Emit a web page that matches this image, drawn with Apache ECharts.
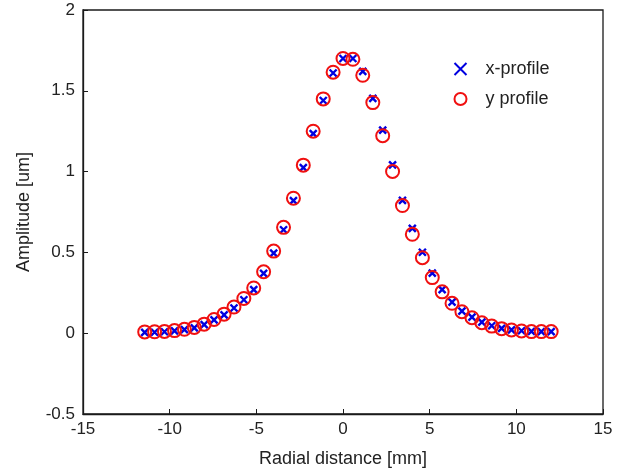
<!DOCTYPE html>
<html>
<head>
<meta charset="utf-8">
<script src="https://cdn.jsdelivr.net/npm/echarts@6/dist/echarts.min.js"></script>
<style>
html,body{margin:0;padding:0;background:#fff;}
#chart{width:619px;height:473px;}
</style>
</head>
<body>
<div id="chart"></div>
<script>
// Radial positions [mm]
var radialDistance = [-11.44, -10.87, -10.30, -9.72, -9.15, -8.58, -8.01, -7.44, -6.86, -6.29,
  -5.72, -5.15, -4.58, -4.00, -3.43, -2.86, -2.29, -1.72, -1.14, -0.57,
  0.00, 0.57, 1.14, 1.72, 2.29, 2.86, 3.43, 4.00, 4.58, 5.15,
  5.72, 6.29, 6.86, 7.44, 8.01, 8.58, 9.15, 9.72, 10.30, 10.87, 11.44, 12.01];
// x-profile amplitude [um]
var xProfile = [0.005, 0.006, 0.009, 0.014, 0.022, 0.033, 0.053, 0.082, 0.113, 0.156,
  0.207, 0.270, 0.370, 0.495, 0.640, 0.820, 1.025, 1.235, 1.440, 1.610,
  1.700, 1.700, 1.620, 1.453, 1.257, 1.042, 0.822, 0.649, 0.501, 0.372,
  0.270, 0.192, 0.137, 0.100, 0.068, 0.046, 0.030, 0.021, 0.015, 0.011, 0.010, 0.010];
// y profile amplitude [um]
var yProfile = [0.008, 0.009, 0.011, 0.016, 0.024, 0.036, 0.056, 0.085, 0.118, 0.162,
  0.215, 0.280, 0.380, 0.508, 0.655, 0.835, 1.040, 1.250, 1.450, 1.615,
  1.700, 1.695, 1.596, 1.427, 1.222, 1.001, 0.790, 0.612, 0.467, 0.344,
  0.256, 0.185, 0.133, 0.096, 0.065, 0.044, 0.028, 0.020, 0.014, 0.010, 0.010, 0.010];
var xTicks = {min: -15, max: 15, interval: 5};
var yTicks = {min: -0.5, max: 2, interval: 0.5};

function pairs(xs, ys) { return xs.map(function (x, i) { return [x, ys[i]]; }); }

var font = 'Arial, "Liberation Sans", sans-serif';
var chart = echarts.init(document.getElementById('chart'), null, {renderer: 'canvas'});
chart.setOption({
  animation: false,
  backgroundColor: '#fff',
  grid: {left: 83, right: 16, top: 10, bottom: 56, show: true, borderColor: '#1a1a1a', borderWidth: 1.3, backgroundColor: 'transparent'},
  legend: {
    orient: 'vertical', left: 447, top: 55, itemWidth: 12, itemHeight: 12, itemGap: 12,
    textStyle: {fontFamily: font, fontSize: 18, color: '#222', padding: [0, 0, 0, 14]},
    data: ['x-profile', 'y profile']
  },
  xAxis: {
    type: 'value', min: xTicks.min, max: xTicks.max, interval: xTicks.interval,
    name: 'Radial distance [mm]', nameLocation: 'middle', nameGap: 36,
    nameTextStyle: {fontFamily: font, fontSize: 18, color: '#222'},
    axisLine: {show: true, onZero: false, lineStyle: {color: '#1a1a1a', width: 1.3}},
    axisTick: {show: true, inside: true, length: 5, lineStyle: {color: '#1a1a1a'}},
    axisLabel: {fontFamily: font, fontSize: 17, color: '#222', margin: 7},
    splitLine: {show: false}
  },
  yAxis: {
    type: 'value', min: yTicks.min, max: yTicks.max, interval: yTicks.interval,
    name: 'Amplitude [um]', nameLocation: 'middle', nameGap: 50,
    nameTextStyle: {fontFamily: font, fontSize: 18, color: '#222'},
    axisLine: {show: true, onZero: false, lineStyle: {color: '#1a1a1a', width: 1.3}},
    axisTick: {show: true, inside: true, length: 5, lineStyle: {color: '#1a1a1a'}},
    axisLabel: {fontFamily: font, fontSize: 17, color: '#222', margin: 8},
    splitLine: {show: false}
  },
  series: [
    {
      name: 'x-profile', type: 'scatter',
      symbol: 'path://M0,0L10,10M10,0L0,10', symbolSize: 7,
      itemStyle: {color: 'none', borderColor: '#0000e0', borderWidth: 2.4, opacity: 1},
      data: pairs(radialDistance, xProfile), z: 2
    },
    {
      name: 'y profile', type: 'scatter',
      symbol: 'circle', symbolSize: 13,
      itemStyle: {color: 'rgba(0,0,0,0)', borderColor: '#f01010', borderWidth: 2, opacity: 1},
      data: pairs(radialDistance, yProfile), z: 3
    }
  ]
});
</script>
</body>
</html>
